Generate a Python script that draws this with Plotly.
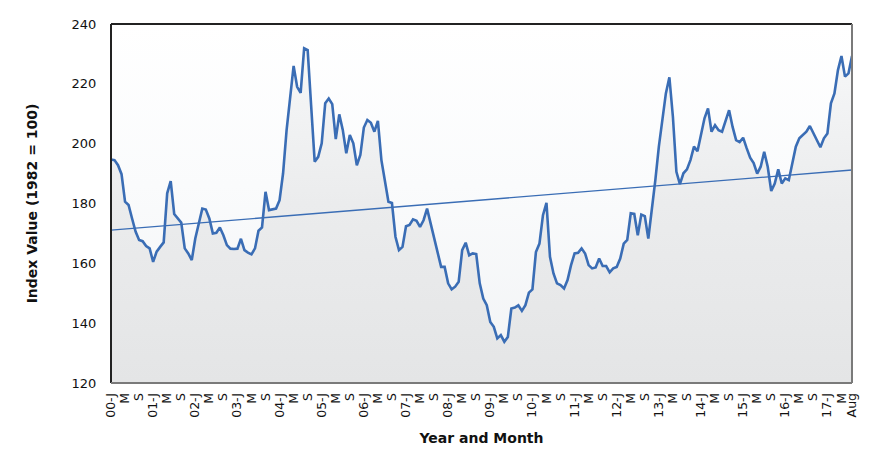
import pandas as pd
import plotly.graph_objects as go

# ---------------- data ----------------
index_values = [
    # 2000
    194.7, 194.5, 192.8, 189.8, 180.6, 179.5, 175.0, 170.6, 167.8, 167.4, 165.8, 165.0,
    # 2001
    160.5, 163.9, 165.5, 167.0, 183.4, 187.5, 176.5, 175.0, 173.6, 165.0, 163.3, 161.1,
    # 2002
    168.3, 173.3, 178.3, 178.0, 175.0, 170.0, 170.2, 172.0, 169.4, 166.1, 164.9, 164.8,
    # 2003
    164.9, 168.2, 164.4, 163.6, 163.0, 165.0, 170.9, 172.0, 183.9, 177.8, 178.0, 178.3,
    # 2004
    181.1, 190.1, 204.5, 215.7, 226.0, 219.0, 217.0, 231.9, 231.3, 212.5, 194.0, 195.6,
    # 2005
    200.1, 213.5, 215.1, 213.2, 201.5, 209.8, 204.6, 196.8, 202.9, 200.1, 192.8, 196.2,
    # 2006
    205.4, 207.9, 207.0, 204.0, 207.6, 194.5, 187.8, 180.6, 180.2, 168.9, 164.4, 165.5,
    # 2007
    172.4, 172.8, 174.7, 174.2, 172.2, 174.4, 178.3, 173.3, 168.9, 164.4, 158.8, 158.8,
    # 2008
    153.3, 151.3, 152.2, 153.8, 164.4, 166.9, 162.7, 163.3, 163.1, 153.3, 148.2, 146.0,
    # 2009
    140.4, 138.8, 134.9, 136.0, 133.8, 135.4, 144.9, 145.2, 146.0, 144.1, 146.0, 150.2,
    # 2010
    151.3, 163.8, 166.6, 176.1, 180.2, 162.2, 156.6, 153.3, 152.7, 151.6, 154.4, 159.4,
    # 2011
    163.3, 163.5, 165.0, 163.3, 159.4, 158.3, 158.6, 161.6, 159.1, 159.1, 157.0, 158.3,
    # 2012
    158.8, 161.6, 166.6, 167.8, 176.7, 176.5, 169.4, 176.3, 175.8, 168.3, 177.8, 187.8,
    # 2013
    199.0, 207.9, 216.8, 222.2, 209.0, 190.6, 186.5, 190.1, 191.4, 194.5, 199.0, 197.5,
    # 2014
    203.4, 208.5, 211.8, 204.0, 206.2, 204.5, 204.0, 207.9, 211.2, 205.6, 201.2, 200.5,
    # 2015
    202.0, 198.5, 195.3, 193.5, 190.0, 192.3, 197.3, 192.3, 184.2, 186.7, 191.4, 186.7,
    # 2016
    188.4, 187.8, 193.4, 199.0, 201.8, 202.9, 204.0, 205.9, 203.4, 201.2, 198.8, 201.8,
    # 2017
    203.4, 213.5, 216.8, 224.6, 229.3, 222.4, 223.5, 229.3,
]
trend_values = [171.1, 191.2]          # linear trend, first and last month
y_range = [120, 240]
y_tick_vals = [120, 140, 160, 180, 200, 220, 240]

months = pd.date_range("2000-01-01", periods=len(index_values), freq="MS")
month_keys = [d.strftime("%Y-%m") for d in months]

tick_vals, tick_text = [], []
for i, d in enumerate(months):
    if i == len(months) - 1:
        tick_vals.append(month_keys[i]); tick_text.append(d.strftime("%b"))
    elif d.month == 1:
        tick_vals.append(month_keys[i]); tick_text.append(d.strftime("%y") + "-J")
    elif d.month == 5:
        tick_vals.append(month_keys[i]); tick_text.append("M")
    elif d.month == 9:
        tick_vals.append(month_keys[i]); tick_text.append("S")

FONT = "DejaVu Sans"
LINE_BLUE = "#3a6db5"

fig = go.Figure()

# plot background gradient (white at top to pale grey-blue at bottom)
fig.add_trace(go.Scatter(
    x=[month_keys[0], month_keys[-1]], y=[y_range[1], y_range[1]],
    mode="lines", line=dict(width=0), fill="tozeroy",
    fillgradient=dict(type="vertical", start=y_range[0], stop=y_range[1],
                      colorscale=[[0, "#f1f3f5"], [0.55, "#fafbfc"], [1, "#ffffff"]]),
    hoverinfo="skip", showlegend=False,
))

# main series with shaded area
fig.add_trace(go.Scatter(
    x=month_keys, y=index_values, mode="lines",
    line=dict(color=LINE_BLUE, width=2.6),
    fill="tozeroy",
    fillgradient=dict(type="vertical", start=y_range[0], stop=y_range[1],
                      colorscale=[[0, "#e4e5e6"], [0.5, "#ebeced"], [1, "#f8f9fa"]]),
    showlegend=False,
))

# trend line
fig.add_trace(go.Scatter(
    x=[month_keys[0], month_keys[-1]], y=trend_values, mode="lines",
    line=dict(color=LINE_BLUE, width=1.3), showlegend=False,
))

# plot border: dark top/left, grey right/bottom
border = [
    (0, 1, 1, 1, "#222222"), (0, 0, 0, 1, "#222222"),
    (1, 0, 1, 1, "#7a7a7a"), (0, 0, 1, 0, "#7a7a7a"),
]
for x0, y0, x1, y1, c in border:
    fig.add_shape(type="line", xref="paper", yref="paper",
                  x0=x0, y0=y0, x1=x1, y1=y1, line=dict(color=c, width=2), layer="above")

fig.update_layout(
    width=870, height=469,
    margin=dict(l=111, r=18, t=24, b=86),
    paper_bgcolor="white", plot_bgcolor="white",
    font=dict(family=FONT, color="#111111"),
    xaxis=dict(
        type="category", categoryorder="array", categoryarray=month_keys,
        range=[0, len(month_keys) - 1],
        tickmode="array", tickvals=tick_vals, ticktext=tick_text,
        tickangle=-90, tickfont=dict(size=12.5, family=FONT),
        showgrid=False, zeroline=False, showline=False,
        ticks="outside", ticklen=4, tickcolor="rgba(0,0,0,0)",
        title=dict(text="<b>Year and Month</b>", font=dict(size=14, family=FONT), standoff=16),
    ),
    yaxis=dict(
        range=y_range, tickvals=y_tick_vals,
        tickfont=dict(size=13, family=FONT),
        showgrid=False, zeroline=False, showline=False,
        ticks="outside", ticklen=11, tickcolor="rgba(0,0,0,0)",
        title=dict(text="<b>Index Value (1982 = 100)</b>", font=dict(size=14, family=FONT), standoff=30),
    ),
)

fig.write_html("out.html")
